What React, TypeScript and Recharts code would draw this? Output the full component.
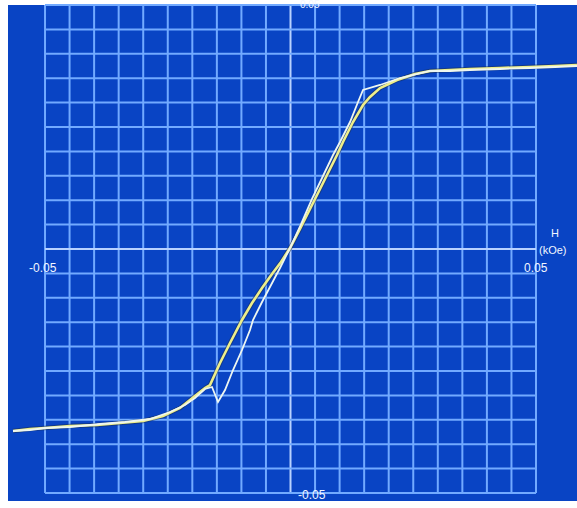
import { LineChart, Line, XAxis, YAxis, CartesianGrid, ReferenceLine } from "recharts"

// grid positions (kOe on x, same scale on y)
const GRID_STEPS = [
  -0.05, -0.045, -0.04, -0.035, -0.03, -0.025, -0.02, -0.015, -0.01, -0.005, 0,
  0.005, 0.01, 0.015, 0.02, 0.025, 0.03, 0.035, 0.04, 0.045, 0.05,
]

// ascending branch (yellow)
const ASC_H = [
  -0.05652, -0.05305, -0.05, -0.04491, -0.03941, -0.03473, -0.03004, -0.02597, -0.02251, -0.02047,
  -0.01843, -0.01741, -0.0164, -0.01436, -0.01232, -0.00988, -0.00784, -0.0058, -0.00377, -0.00193,
  -0.0001, 0.00193, 0.00397, 0.00601, 0.00804, 0.00947, 0.01069, 0.01273, 0.01477, 0.01619,
  0.01823, 0.02169, 0.02536, 0.02841, 0.03248, 0.03656, 0.04267, 0.04878, 0.05387, 0.05835,
]
const ASC_M = [
  -0.0373, -0.03689, -0.03668, -0.03627, -0.03607, -0.03566, -0.03525, -0.03422, -0.03258, -0.03094,
  -0.0293, -0.02848, -0.02787, -0.02336, -0.01926, -0.01455, -0.01107, -0.00799, -0.00512, -0.00266,
  0.0002, 0.0041, 0.0082, 0.0123, 0.01639, 0.01926, 0.02193, 0.02602, 0.02951, 0.03115,
  0.03299, 0.03463, 0.03586, 0.03648, 0.03668, 0.03689, 0.03709, 0.0373, 0.0375, 0.0377,
]

// descending branch (white)
const DESC_H = [
  0.05835, 0.05387, 0.04878, 0.04267, 0.03656, 0.03248, 0.02841, 0.0223, 0.01823, 0.01477,
  0.01375, 0.01212, 0.01008, 0.00866, 0.00642, 0.00438, 0.00214, -0.0001, -0.00214, -0.00397,
  -0.0058, -0.00764, -0.00825, -0.00988, -0.01171, -0.01334, -0.01477, -0.01599, -0.01741, -0.01945,
  -0.02149, -0.02454, -0.02862, -0.03371, -0.0388, -0.04491, -0.05, -0.05305, -0.05652,
]
const DESC_M = [
  0.0375, 0.0373, 0.03709, 0.03689, 0.03668, 0.03648, 0.03648, 0.03504, 0.03361, 0.03258,
  0.03012, 0.02602, 0.02193, 0.01926, 0.01455, 0.01025, 0.00512, 0.0002, -0.00389, -0.00738,
  -0.01086, -0.01455, -0.0166, -0.0207, -0.0248, -0.02889, -0.03135, -0.02828, -0.02869, -0.03053,
  -0.03197, -0.0334, -0.03484, -0.03545, -0.03586, -0.03648, -0.03668, -0.03709, -0.0373,
]

const X_DOMAIN = [-0.05754, 0.05835]
const Y_DOMAIN = [-0.05164, 0.05]

const ascData = ASC_H.map((h, i) => ({ h, m: ASC_M[i] }))
const descData = DESC_H.map((h, i) => ({ h, m: DESC_M[i] }))

const labelStyle: React.CSSProperties = {
  position: "absolute",
  color: "#f2f6ff",
  fontFamily: "'Liberation Sans', Arial, sans-serif",
  fontSize: 12,
  lineHeight: "12px",
  whiteSpace: "nowrap",
}

export default function App() {
  return (
    <div style={{ position: "absolute", left: 0, top: 0, width: 577, height: 508, background: "#fff" }}>
      <LineChart width={577} height={508} margin={{ top: 5, right: 0, bottom: 7, left: 8 }}>
        <CartesianGrid fill="#0944c4" fillOpacity={1} horizontal={false} vertical={false} />
        <XAxis type="number" dataKey="h" domain={X_DOMAIN} allowDataOverflow hide />
        <YAxis type="number" dataKey="m" domain={Y_DOMAIN} allowDataOverflow hide />
        {GRID_STEPS.map((v) => (
          <ReferenceLine
            key={`v${v}`}
            segment={[{ x: v, y: -0.05 }, { x: v, y: 0.05 }]}
            stroke={v === 0 ? "#b8d2ff" : "#72aaff"}
            strokeWidth={2}
            ifOverflow="visible"
          />
        ))}
        {GRID_STEPS.map((v) => (
          <ReferenceLine
            key={`h${v}`}
            segment={[{ x: -0.05, y: v }, { x: 0.05, y: v }]}
            stroke={v === 0 ? "#b8d2ff" : "#72aaff"}
            strokeWidth={2}
            ifOverflow="visible"
          />
        ))}
        <Line data={ascData} dataKey="m" type="linear" stroke="#1b2f55" strokeWidth={4.5} strokeOpacity={0.55} dot={false} isAnimationActive={false} />
        <Line data={ascData} dataKey="m" type="linear" stroke="#eeee8a" strokeWidth={2.6} dot={false} isAnimationActive={false} />
        <Line data={descData} dataKey="m" type="linear" stroke="#eef6f0" strokeWidth={1.8} dot={false} isAnimationActive={false} />
      </LineChart>
      <div style={{ ...labelStyle, left: 29, top: 262 }}>-0.05</div>
      <div style={{ ...labelStyle, left: 524, top: 262 }}>0.05</div>
      <div style={{ ...labelStyle, left: 298, top: 489 }}>-0.05</div>
      <div style={{ ...labelStyle, left: 300, top: 0, fontSize: 10, lineHeight: "10px" }}>0.05</div>
      <div style={{ ...labelStyle, left: 551, top: 227, fontSize: 11 }}>H</div>
      <div style={{ ...labelStyle, left: 539, top: 244, fontSize: 11 }}>(kOe)</div>
    </div>
  )
}
